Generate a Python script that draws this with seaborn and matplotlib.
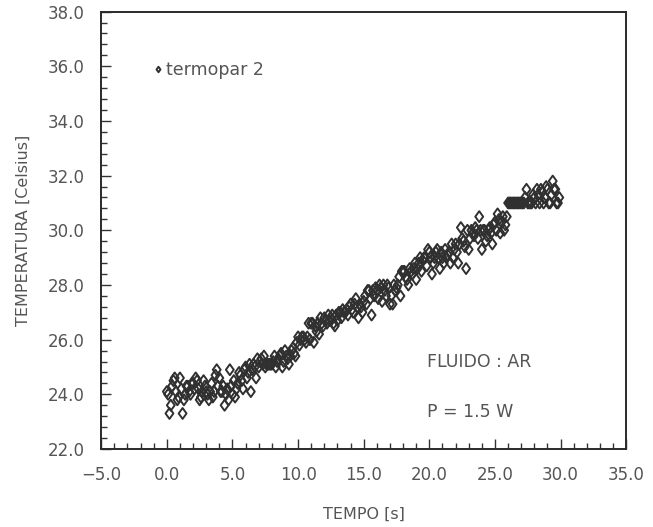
import numpy as np
import pandas as pd
import matplotlib
matplotlib.use("Agg")
import matplotlib.pyplot as plt
from matplotlib.ticker import MultipleLocator, FuncFormatter
from matplotlib.path import Path
import seaborn as sns

# amostras pares (t = 0.0, 0.2, ...)
tempo_a = [
    0.0, 0.2, 0.4, 0.6, 0.8, 1.0, 1.2, 1.4, 1.6, 1.8,
    2.0, 2.2, 2.4, 2.6, 2.8, 3.0, 3.2, 3.4, 3.6, 3.8,
    4.0, 4.2, 4.4, 4.6, 4.8, 5.0, 5.2, 5.4, 5.6, 5.8,
    6.0, 6.2, 6.4, 6.6, 6.8, 7.0, 7.2, 7.4, 7.6, 7.8,
    8.0, 8.2, 8.4, 8.6, 8.8, 9.0, 9.2, 9.4, 9.6, 9.8,
    10.0, 10.2, 10.4, 10.6, 10.8, 11.0, 11.2, 11.4, 11.6, 11.8,
    12.0, 12.2, 12.4, 12.6, 12.8, 13.0, 13.2, 13.4, 13.6, 13.8,
    14.0, 14.2, 14.4, 14.6, 14.8, 15.0, 15.2, 15.4, 15.6, 15.8,
    16.0, 16.2, 16.4, 16.6, 16.8, 17.0, 17.2, 17.4, 17.6, 17.8,
    18.0, 18.2, 18.4, 18.6, 18.8, 19.0, 19.2, 19.4, 19.6, 19.8,
    20.0, 20.2, 20.4, 20.6, 20.8, 21.0, 21.2, 21.4, 21.6, 21.8,
    22.0, 22.2, 22.4, 22.6, 22.8, 23.0, 23.2, 23.4, 23.6, 23.8,
    24.0, 24.2, 24.4, 24.6, 24.8, 25.0, 25.2, 25.4, 25.6, 25.8,
    26.0, 26.2, 26.4, 26.6, 26.8, 27.0, 27.2, 27.4, 27.6, 27.8,
    28.0, 28.2, 28.4, 28.6, 28.8, 29.0, 29.2, 29.4, 29.6, 29.8,
]
temperatura_a = [
    24.1, 23.3, 24.3, 24.6, 23.8, 24.6, 23.3, 24.0, 24.3, 24.0,
    24.4, 24.6, 24.2, 23.9, 24.5, 24.1, 23.8, 24.4, 24.1, 24.9,
    24.6, 24.1, 23.6, 24.2, 24.9, 24.0, 23.9, 24.4, 24.7, 24.2,
    25.0, 24.8, 24.1, 25.1, 24.6, 25.0, 25.3, 25.4, 25.1, 25.1,
    25.1, 25.4, 25.2, 25.4, 25.0, 25.6, 25.3, 25.4, 25.7, 25.4,
    26.1, 26.0, 26.1, 25.9, 26.6, 26.6, 25.9, 26.3, 26.2, 26.6,
    26.8, 26.6, 26.7, 26.9, 26.5, 26.7, 27.0, 27.1, 27.0, 26.9,
    27.3, 27.0, 27.5, 26.8, 27.2, 27.4, 27.3, 27.8, 26.9, 27.6,
    27.8, 28.0, 27.4, 27.8, 28.0, 27.3, 27.3, 27.8, 28.0, 27.6,
    28.5, 28.3, 28.0, 28.5, 28.6, 28.2, 28.8, 28.5, 29.0, 28.7,
    29.2, 28.4, 29.0, 29.3, 28.6, 29.0, 29.3, 29.1, 28.8, 29.0,
    29.5, 28.8, 30.1, 29.6, 28.6, 29.3, 30.0, 29.8, 30.0, 30.5,
    29.3, 30.0, 29.8, 30.1, 29.5, 30.3, 30.6, 29.9, 30.5, 30.2,
    31.0, 31.0, 31.0, 31.0, 31.0, 31.0, 31.0, 31.5, 31.0, 31.0,
    31.2, 31.5, 31.0, 31.4, 31.2, 31.5, 31.0, 31.8, 31.5, 31.0,
]
# amostras impares (t = 0.1, 0.3, ...)
tempo_b = [
    0.1, 0.3, 0.5, 0.7, 0.9, 1.1, 1.3, 1.5, 1.7, 1.9,
    2.1, 2.3, 2.5, 2.7, 2.9, 3.1, 3.3, 3.5, 3.7, 3.9,
    4.1, 4.3, 4.5, 4.7, 4.9, 5.1, 5.3, 5.5, 5.7, 5.9,
    6.1, 6.3, 6.5, 6.7, 6.9, 7.1, 7.3, 7.5, 7.7, 7.9,
    8.1, 8.3, 8.5, 8.7, 8.9, 9.1, 9.3, 9.5, 9.7, 9.9,
    10.1, 10.3, 10.5, 10.7, 10.9, 11.1, 11.3, 11.5, 11.7, 11.9,
    12.1, 12.3, 12.5, 12.7, 12.9, 13.1, 13.3, 13.5, 13.7, 13.9,
    14.1, 14.3, 14.5, 14.7, 14.9, 15.1, 15.3, 15.5, 15.7, 15.9,
    16.1, 16.3, 16.5, 16.7, 16.9, 17.1, 17.3, 17.5, 17.7, 17.9,
    18.1, 18.3, 18.5, 18.7, 18.9, 19.1, 19.3, 19.5, 19.7, 19.9,
    20.1, 20.3, 20.5, 20.7, 20.9, 21.1, 21.3, 21.5, 21.7, 21.9,
    22.1, 22.3, 22.5, 22.7, 22.9, 23.1, 23.3, 23.5, 23.7, 23.9,
    24.1, 24.3, 24.5, 24.7, 24.9, 25.1, 25.3, 25.5, 25.7, 25.9,
    26.1, 26.3, 26.5, 26.7, 26.9, 27.1, 27.3, 27.5, 27.7, 27.9,
    28.1, 28.3, 28.5, 28.7, 28.9, 29.1, 29.3, 29.5, 29.7, 29.9,
]
temperatura_b = [
    24.0, 23.6, 24.5, 24.1, 23.9, 24.2, 23.8, 24.3, 24.1, 24.4,
    24.2, 24.5, 23.8, 24.1, 24.3, 24.0, 24.1, 23.9, 24.7, 24.3,
    24.1, 24.3, 24.0, 23.8, 24.3, 24.5, 24.2, 24.8, 24.5, 24.9,
    24.6, 25.1, 24.9, 25.0, 25.3, 25.2, 25.1, 25.0, 25.1, 25.1,
    25.2, 25.0, 25.3, 25.5, 25.2, 25.4, 25.1, 25.6, 25.5, 25.9,
    25.8, 26.1, 26.0, 26.1, 26.0, 26.6, 26.5, 26.6, 26.8, 26.5,
    26.7, 26.9, 26.8, 26.6, 26.9, 27.0, 26.8, 27.0, 27.1, 27.2,
    27.1, 27.3, 27.2, 27.3, 27.0, 27.6, 27.8, 27.5, 27.8, 27.9,
    27.5, 27.9, 28.0, 27.6, 27.9, 27.6, 28.0, 27.9, 28.3, 28.5,
    28.5, 28.2, 28.6, 28.4, 28.8, 28.6, 29.0, 28.9, 29.0, 29.3,
    29.0, 28.8, 29.2, 29.0, 29.2, 28.8, 29.0, 29.2, 29.5, 29.3,
    29.2, 29.5, 29.7, 29.4, 30.0, 29.7, 29.9, 30.1, 29.7, 30.0,
    30.0, 29.6, 30.0, 29.9, 30.2, 30.0, 30.4, 30.3, 30.0, 30.5,
    31.0, 31.0, 31.0, 31.0, 31.0, 31.0, 31.2, 31.0, 31.0, 31.3,
    31.0, 31.3, 31.5, 31.0, 31.6, 31.0, 31.3, 31.5, 31.0, 31.2,
]
serie = "termopar 2"
anotacoes = ["FLUIDO : AR", "P = 1.5 W"]

df = pd.DataFrame({"TEMPO": tempo_a + tempo_b,
                   "TEMPERATURA": temperatura_a + temperatura_b,
                   "serie": serie})

sns.set_theme(style="ticks")
plt.rcParams["font.family"] = ["DejaVu Sans"]
txt = "#555555"
mk = "#303030"

diamond = Path([(0, 1), (0.72, 0), (0, -1), (-0.72, 0), (0, 1)],
               [Path.MOVETO, Path.LINETO, Path.LINETO, Path.LINETO, Path.CLOSEPOLY])

fig = plt.figure(figsize=(6.53, 5.27), dpi=100)
ax = fig.add_axes([0.155, 0.148, 0.804, 0.83])

sns.scatterplot(data=df, x="TEMPO", y="TEMPERATURA", hue="serie",
                palette=[mk], marker=diamond, s=62,
                linewidth=1.4, ax=ax, legend=True)
for c in ax.collections:
    c.set_facecolor("none")
    c.set_edgecolor(mk)

fmt = FuncFormatter(lambda v, p: f"{v:.1f}".replace("-", "\u2212"))
ax.set_xlim(-5, 35)
ax.set_ylim(22, 38)
ax.xaxis.set_major_locator(MultipleLocator(5))
ax.xaxis.set_minor_locator(MultipleLocator(1))
ax.yaxis.set_major_locator(MultipleLocator(2))
ax.yaxis.set_minor_locator(MultipleLocator(0.4))
ax.xaxis.set_major_formatter(fmt)
ax.yaxis.set_major_formatter(fmt)
ax.tick_params(which="both", direction="in", top=False, right=False,
               colors="#333333", labelcolor=txt, labelsize=12, width=1.0)
ax.tick_params(which="major", length=7, pad=12)
ax.tick_params(which="minor", length=4)
for sp in ax.spines.values():
    sp.set_linewidth(1.4)
    sp.set_color("#2a2a2a")

ax.set_xlabel("TEMPO [s]", fontsize=11.5, color=txt, labelpad=17)
ax.set_ylabel("TEMPERATURA [Celsius]", fontsize=11.5, color=txt, labelpad=12)

leg = ax.legend(loc="upper left", bbox_to_anchor=(0.075, 0.915), frameon=False,
                markerscale=0.5, handletextpad=0.15, fontsize=12.5,
                labelcolor=txt, borderpad=0.2, handlelength=0.6)
for h in leg.legend_handles:
    try:
        h.set_markerfacecolor("none")
        h.set_markeredgecolor(mk)
    except AttributeError:
        h.set_facecolor("none")

ax.text(19.8, 25.2, anotacoes[0], fontsize=12.5, color=txt, va="center")
ax.text(19.8, 23.35, anotacoes[1], fontsize=12.5, color=txt, va="center")

fig.savefig("out.png", dpi=100)
